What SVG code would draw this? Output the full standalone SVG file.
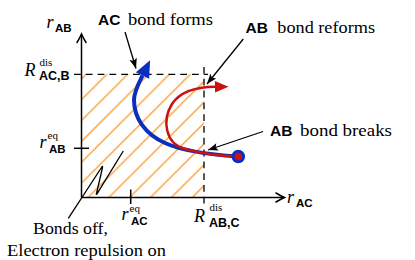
<svg xmlns="http://www.w3.org/2000/svg" width="415" height="260" viewBox="0 0 415 260">
<style>
.s{font-family:"Liberation Serif","DejaVu Serif",serif;font-size:16.5px;fill:#000}
.i{font-family:"Liberation Serif","DejaVu Serif",serif;font-style:italic;font-size:18px;fill:#000}
.sup{font-family:"Liberation Serif","DejaVu Serif",serif;font-size:11px;fill:#000}
.b{font-family:"Liberation Sans",Arial,sans-serif;font-weight:bold;fill:#000}
.big{font-size:15.5px}
.sub{font-size:11.5px}
.subc{font-size:12.5px}
.ax{stroke:#000;stroke-width:1.5;fill:none}
.dash{stroke:#000;stroke-width:1.3;stroke-dasharray:6.8 5;fill:none}
.ptr{stroke:#000;stroke-width:1.3;fill:none;marker-end:url(#ptrhead)}
</style>
<defs>
<pattern id="hatch" patternUnits="userSpaceOnUse" x="14.35" y="0" width="20.85" height="20.85">
<path d="M-1,21.85 L21.85,-1 M-1,1 L1,-1 M19.85,21.85 L21.85,19.85" stroke="#fb9a2e" stroke-width="1.3" fill="none"/>
</pattern>
<marker id="axhead" markerUnits="userSpaceOnUse" viewBox="-11 -7 13 14" markerWidth="13" markerHeight="14" refX="0" refY="0" orient="auto" overflow="visible">
<path d="M-8.5,-4.5 Q-3,-1.2 0,0 Q-3,1.2 -8.5,4.5" fill="none" stroke="#000" stroke-width="1.5" stroke-linecap="round"/>
</marker>
<marker id="ptrhead" markerUnits="userSpaceOnUse" viewBox="-11 -5 12 10" markerWidth="12" markerHeight="10" refX="0" refY="0" orient="auto" overflow="visible">
<path d="M0,0 L-10,-3.8 L-8,0 L-10,3.8 Z" fill="#000"/>
</marker>
<marker id="bluehead" markerUnits="userSpaceOnUse" viewBox="-1 -9 20 18" markerWidth="20" markerHeight="18" refX="0" refY="0" orient="auto" overflow="visible">
<path d="M0,-7.4 L17,0 L0,7.4 Z" fill="#0a2fbf"/>
</marker>
<marker id="redhead" markerUnits="userSpaceOnUse" viewBox="-1 -7 16 14" markerWidth="16" markerHeight="14" refX="0" refY="0" orient="auto" overflow="visible">
<path d="M0,-5.8 L13.5,0 L0,5.8 Z" fill="#cc1111"/>
</marker>
</defs>

<g id="region">
<rect x="81.5" y="74.3" width="122.5" height="123.2" fill="url(#hatch)"/>
<path class="dash" d="M74,74.3 H208"/>
<path class="dash" d="M204,67 V203.5"/>
</g>

<g id="axes">
<path class="ax" d="M81.5,197.5 V34" marker-end="url(#axhead)"/>
<path class="ax" d="M81.5,197.5 H284.5" marker-end="url(#axhead)"/>
<path class="ax" d="M74,148.3 H89"/>
<path class="ax" d="M130.7,189.5 V204"/>
</g>

<g id="zigzag">
<path d="M68.3,218.3 L101.5,167.5 Q103.2,165 102.4,168 L96.5,193.5 Q96,195.5 97.3,193.3 L123.3,151" fill="none" stroke="#000" stroke-width="1.3" stroke-linejoin="round"/>
</g>

<g id="blue-path">
<path d="M238.3,156.5 C215,155 185,152 165,143 C145,134 134,118 134,100 C134,92 138.5,83.5 142.5,75.5" fill="none" stroke="#0a2fbf" stroke-width="4" marker-end="url(#bluehead)"/>
</g>

<g id="red-path">
<path d="M238.3,156.5 C220,156 200,153 185,149 C165,143.5 162,120 172,104 C180,92 195,87 215,86.8" fill="none" stroke="#cc1111" stroke-width="2.5" marker-end="url(#redhead)"/>
</g>

<g id="start-point">
<circle cx="238.3" cy="156.5" r="6.8" fill="#0a2fbf"/>
<circle cx="238.3" cy="156.5" r="3.8" fill="#cc1111"/>
</g>

<g id="connectors">
<path class="ptr" d="M125,32 L136,68.5"/>
<path class="ptr" d="M243.3,39 L207,84"/>
<path class="ptr" d="M263,131.5 L208,150"/>
</g>

<g id="label-ac-forms">
<text class="b big" x="98" y="25">AC</text>
<text class="s" x="128" y="25" textLength="85" lengthAdjust="spacingAndGlyphs">bond forms</text>
</g>
<g id="label-ab-reforms">
<text class="b big" x="245.5" y="33.3">AB</text>
<text class="s" x="277.3" y="33.3" textLength="97.7" lengthAdjust="spacingAndGlyphs">bond reforms</text>
</g>
<g id="label-ab-breaks">
<text class="b big" x="270" y="136">AB</text>
<text class="s" x="300" y="136" textLength="92" lengthAdjust="spacingAndGlyphs">bond breaks</text>
</g>
<g id="label-bonds-off">
<text class="s" x="33" y="234" textLength="75" lengthAdjust="spacingAndGlyphs">Bonds off,</text>
<text class="s" x="7" y="256" textLength="159" lengthAdjust="spacingAndGlyphs">Electron repulsion on</text>
</g>

<g id="axis-labels">
<text class="i" x="46.5" y="28">r</text>
<text class="b sub" x="55" y="32">AB</text>

<text class="i" x="24.5" y="76">R</text>
<text class="sup" x="39.5" y="65.5">dis</text>
<text class="b subc" x="39" y="80">AC,B</text>

<text class="i" x="39.5" y="147.5">r</text>
<text class="sup" x="47.5" y="139">eq</text>
<text class="b sub" x="49" y="152.5">AB</text>

<text class="i" x="121.5" y="220">r</text>
<text class="sup" x="129.5" y="211.5">eq</text>
<text class="b sub" x="131" y="225">AC</text>

<text class="i" x="194" y="221.5">R</text>
<text class="sup" x="209.5" y="211">dis</text>
<text class="b subc" x="209" y="226.5">AB,C</text>

<text class="i" x="287" y="203.3">r</text>
<text class="b sub" x="296" y="207">AC</text>
</g>
</svg>
